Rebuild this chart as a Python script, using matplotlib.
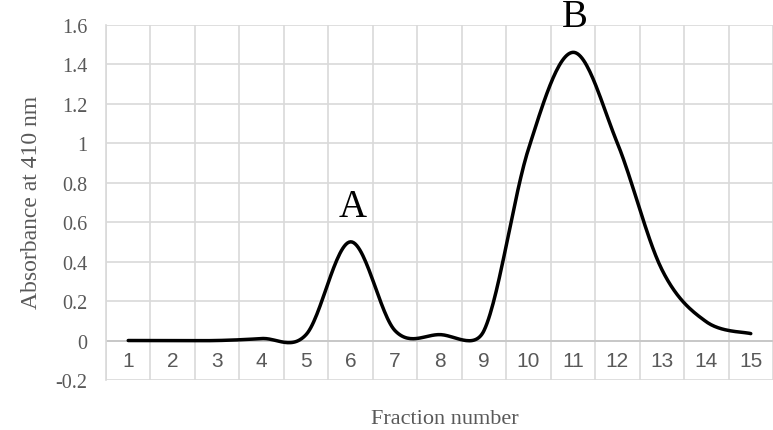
import numpy as np
import matplotlib
matplotlib.use("Agg")
import matplotlib.pyplot as plt

# fraction numbers and absorbance
fractions = list(range(1, 16))
absorbance = [0.0, 0.0, 0.0, 0.01, 0.03, 0.5, 0.05, 0.03, 0.05, 0.97, 1.46, 1.0, 0.36, 0.095, 0.035]
peak_labels = ["A", "B"]
peak_fracs = [6, 11]


def excel_smooth(pts, n=30):
    # Bezier smoothing like Excel: tension 1/6, control arm clamped to half the segment
    pts = np.asarray(pts, float)
    p = np.vstack([pts[0], pts, pts[-1]])
    out = []
    for i in range(1, len(p) - 2):
        p0, p1, p2, p3 = p[i - 1], p[i], p[i + 1], p[i + 2]
        d12 = np.linalg.norm(p2 - p1)
        d02 = np.linalg.norm(p2 - p0)
        d13 = np.linalg.norm(p3 - p1)
        f1 = 1 / 6 if d02 / 6 < d12 / 2 else d12 / 2 / d02
        f2 = 1 / 6 if d13 / 6 < d12 / 2 else d12 / 2 / d13
        c1 = p1 + f1 * (p2 - p0)
        c2 = p2 - f2 * (p3 - p1)
        t = np.linspace(0, 1, n)[:, None]
        out.append((1 - t) ** 3 * p1 + 3 * t * (1 - t) ** 2 * c1 + 3 * t ** 2 * (1 - t) * c2 + t ** 3 * p2)
    return np.vstack(out)


fig = plt.figure(figsize=(7.73, 4.31), dpi=100)
ax = fig.add_axes([106 / 773, 50 / 431, 667 / 773, 355.3 / 431])

grid_c = "#d9d9d9"
ax.set_xlim(0.5, 15.5)
ax.set_ylim(-0.2, 1.6)
ax.set_yticks(np.arange(-0.2, 1.61, 0.2))
ax.set_yticklabels(["-0.2", "0", "0.2", "0.4", "0.6", "0.8", "1", "1.2", "1.4", "1.6"],
                   family="Liberation Serif", fontsize=14.5, color="#595959")
ax.set_xticks(np.arange(0.5, 15.6, 1))
ax.set_xticklabels([])
ax.tick_params(length=0, pad=13.5)
ax.grid(True, color=grid_c, lw=1.2)
ax.set_axisbelow(True)
for s in ["top", "right", "bottom"]:
    ax.spines[s].set_visible(False)
ax.spines["left"].set_color(grid_c)
ax.spines["left"].set_linewidth(1.2)
ax.axhline(0, color="#c8c8c8", lw=1.4, zorder=1)

# category labels sit between 0 and -0.2 like Excel
for f in fractions:
    ax.text(f, -0.1, str(f), ha="center", va="center", fontsize=15,
            family="Liberation Sans", color="#595959")

# smooth in screen space, then back to data space
disp = ax.transData.transform(np.column_stack([fractions, absorbance]))
curve = ax.transData.inverted().transform(excel_smooth(disp))
ax.plot(curve[:, 0], curve[:, 1], color="black", lw=2.5, solid_capstyle="round", zorder=3)

for lab, f in zip(peak_labels, peak_fracs):
    ax.text(f + 0.05, absorbance[f - 1] + 0.18, lab, ha="center", va="center",
            fontsize=28, family="Liberation Serif", color="black")

fig.text(32 / 773, 1 - 202 / 431, "Absorbance at 410 nm", rotation=90, ha="center", va="center",
         fontsize=17, family="Liberation Serif", color="#595959")
fig.text(445 / 773, 1 - 420 / 431, "Fraction number", ha="center", va="center",
         fontsize=16, family="Liberation Serif", color="#595959")

fig.savefig("out.png", dpi=100)
